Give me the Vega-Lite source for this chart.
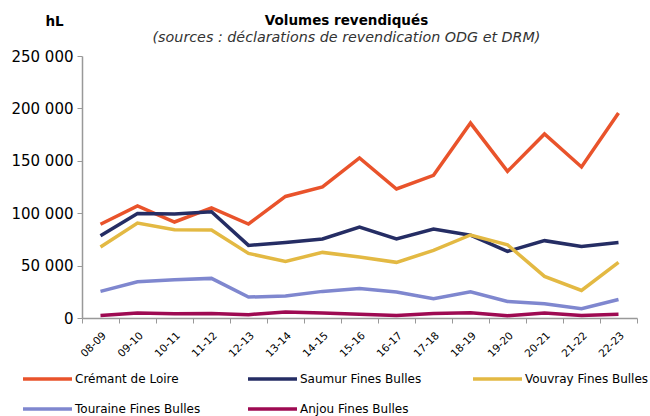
{
  "$schema": "https://vega.github.io/schema/vega-lite/v6.json",
  "width": 555,
  "height": 262,
  "autosize": {"type": "none"},
  "padding": {"left": 82, "top": 56, "right": 13, "bottom": 98},
  "background": "white",
  "config": {
    "font": "DejaVu Sans",
    "view": {"stroke": null}
  },
  "title": {
    "text": "Volumes revendiqués",
    "subtitle": "(sources : déclarations de revendication ODG et DRM)",
    "anchor": "middle",
    "frame": "group",
    "dx": -13,
    "dy": 37,
    "fontSize": 13.5,
    "fontWeight": "bold",
    "color": "#000000",
    "subtitleFontSize": 14.3,
    "subtitleFontStyle": "italic",
    "subtitleColor": "#333333",
    "subtitlePadding": 3,
    "offset": 6
  },
  "datasets": {
    "vol": [
      {"campagne": "08-09", "appellation": "Crémant de Loire", "volume": 89500},
      {"campagne": "09-10", "appellation": "Crémant de Loire", "volume": 107000},
      {"campagne": "10-11", "appellation": "Crémant de Loire", "volume": 91600},
      {"campagne": "11-12", "appellation": "Crémant de Loire", "volume": 105000},
      {"campagne": "12-13", "appellation": "Crémant de Loire", "volume": 89700},
      {"campagne": "13-14", "appellation": "Crémant de Loire", "volume": 116000},
      {"campagne": "14-15", "appellation": "Crémant de Loire", "volume": 125000},
      {"campagne": "15-16", "appellation": "Crémant de Loire", "volume": 152700},
      {"campagne": "16-17", "appellation": "Crémant de Loire", "volume": 123100},
      {"campagne": "17-18", "appellation": "Crémant de Loire", "volume": 136100},
      {"campagne": "18-19", "appellation": "Crémant de Loire", "volume": 186000},
      {"campagne": "19-20", "appellation": "Crémant de Loire", "volume": 139900},
      {"campagne": "20-21", "appellation": "Crémant de Loire", "volume": 175600},
      {"campagne": "21-22", "appellation": "Crémant de Loire", "volume": 144100},
      {"campagne": "22-23", "appellation": "Crémant de Loire", "volume": 195600},
      {"campagne": "08-09", "appellation": "Saumur Fines Bulles", "volume": 78500},
      {"campagne": "09-10", "appellation": "Saumur Fines Bulles", "volume": 99800},
      {"campagne": "10-11", "appellation": "Saumur Fines Bulles", "volume": 99200},
      {"campagne": "11-12", "appellation": "Saumur Fines Bulles", "volume": 101400},
      {"campagne": "12-13", "appellation": "Saumur Fines Bulles", "volume": 69300},
      {"campagne": "13-14", "appellation": "Saumur Fines Bulles", "volume": 72100},
      {"campagne": "14-15", "appellation": "Saumur Fines Bulles", "volume": 75400},
      {"campagne": "15-16", "appellation": "Saumur Fines Bulles", "volume": 86800},
      {"campagne": "16-17", "appellation": "Saumur Fines Bulles", "volume": 75400},
      {"campagne": "17-18", "appellation": "Saumur Fines Bulles", "volume": 84900},
      {"campagne": "18-19", "appellation": "Saumur Fines Bulles", "volume": 79000},
      {"campagne": "19-20", "appellation": "Saumur Fines Bulles", "volume": 63600},
      {"campagne": "20-21", "appellation": "Saumur Fines Bulles", "volume": 73800},
      {"campagne": "21-22", "appellation": "Saumur Fines Bulles", "volume": 68300},
      {"campagne": "22-23", "appellation": "Saumur Fines Bulles", "volume": 72100},
      {"campagne": "08-09", "appellation": "Vouvray Fines Bulles", "volume": 67700},
      {"campagne": "09-10", "appellation": "Vouvray Fines Bulles", "volume": 90600},
      {"campagne": "10-11", "appellation": "Vouvray Fines Bulles", "volume": 84300},
      {"campagne": "11-12", "appellation": "Vouvray Fines Bulles", "volume": 84000},
      {"campagne": "12-13", "appellation": "Vouvray Fines Bulles", "volume": 61600},
      {"campagne": "13-14", "appellation": "Vouvray Fines Bulles", "volume": 54000},
      {"campagne": "14-15", "appellation": "Vouvray Fines Bulles", "volume": 62600},
      {"campagne": "15-16", "appellation": "Vouvray Fines Bulles", "volume": 58200},
      {"campagne": "16-17", "appellation": "Vouvray Fines Bulles", "volume": 53100},
      {"campagne": "17-18", "appellation": "Vouvray Fines Bulles", "volume": 64500},
      {"campagne": "18-19", "appellation": "Vouvray Fines Bulles", "volume": 79200},
      {"campagne": "19-20", "appellation": "Vouvray Fines Bulles", "volume": 69900},
      {"campagne": "20-21", "appellation": "Vouvray Fines Bulles", "volume": 39700},
      {"campagne": "21-22", "appellation": "Vouvray Fines Bulles", "volume": 26300},
      {"campagne": "22-23", "appellation": "Vouvray Fines Bulles", "volume": 53100},
      {"campagne": "08-09", "appellation": "Touraine Fines Bulles", "volume": 25400},
      {"campagne": "09-10", "appellation": "Touraine Fines Bulles", "volume": 34600},
      {"campagne": "10-11", "appellation": "Touraine Fines Bulles", "volume": 36500},
      {"campagne": "11-12", "appellation": "Touraine Fines Bulles", "volume": 37800},
      {"campagne": "12-13", "appellation": "Touraine Fines Bulles", "volume": 20000},
      {"campagne": "13-14", "appellation": "Touraine Fines Bulles", "volume": 21000},
      {"campagne": "14-15", "appellation": "Touraine Fines Bulles", "volume": 25400},
      {"campagne": "15-16", "appellation": "Touraine Fines Bulles", "volume": 28200},
      {"campagne": "16-17", "appellation": "Touraine Fines Bulles", "volume": 24800},
      {"campagne": "17-18", "appellation": "Touraine Fines Bulles", "volume": 18400},
      {"campagne": "18-19", "appellation": "Touraine Fines Bulles", "volume": 25100},
      {"campagne": "19-20", "appellation": "Touraine Fines Bulles", "volume": 15800},
      {"campagne": "20-21", "appellation": "Touraine Fines Bulles", "volume": 13600},
      {"campagne": "21-22", "appellation": "Touraine Fines Bulles", "volume": 8900},
      {"campagne": "22-23", "appellation": "Touraine Fines Bulles", "volume": 17700},
      {"campagne": "08-09", "appellation": "Anjou Fines Bulles", "volume": 2500},
      {"campagne": "09-10", "appellation": "Anjou Fines Bulles", "volume": 4800},
      {"campagne": "10-11", "appellation": "Anjou Fines Bulles", "volume": 4000},
      {"campagne": "11-12", "appellation": "Anjou Fines Bulles", "volume": 4300},
      {"campagne": "12-13", "appellation": "Anjou Fines Bulles", "volume": 3200},
      {"campagne": "13-14", "appellation": "Anjou Fines Bulles", "volume": 5700},
      {"campagne": "14-15", "appellation": "Anjou Fines Bulles", "volume": 4800},
      {"campagne": "15-16", "appellation": "Anjou Fines Bulles", "volume": 3500},
      {"campagne": "16-17", "appellation": "Anjou Fines Bulles", "volume": 2500},
      {"campagne": "17-18", "appellation": "Anjou Fines Bulles", "volume": 4200},
      {"campagne": "18-19", "appellation": "Anjou Fines Bulles", "volume": 5000},
      {"campagne": "19-20", "appellation": "Anjou Fines Bulles", "volume": 2200},
      {"campagne": "20-21", "appellation": "Anjou Fines Bulles", "volume": 4800},
      {"campagne": "21-22", "appellation": "Anjou Fines Bulles", "volume": 2500},
      {"campagne": "22-23", "appellation": "Anjou Fines Bulles", "volume": 3500}
    ]
  },
  "data": {"name": "vol"},
  "mark": {"type": "line", "strokeWidth": 3.5, "strokeJoin": "miter"},
  "encoding": {
    "x": {
      "field": "campagne",
      "type": "ordinal",
      "bandPosition": 0.5,
      "scale": {"type": "band", "paddingInner": 0, "paddingOuter": 0},
      "axis": {
        "title": null,
        "labelAngle": -45,
        "labelFontSize": 10.5,
        "labelColor": "#000000",
        "tickBand": "extent",
        "tickSize": 5,
        "tickColor": "#999999",
        "domainColor": "#999999",
        "domainWidth": 1.5,
        "labelPadding": 7,
        "grid": false
      }
    },
    "y": {
      "field": "volume",
      "type": "quantitative",
      "scale": {"domain": [0, 250000]},
      "axis": {
        "values": [0, 50000, 100000, 150000, 200000, 250000],
        "labelExpr": "replace(format(datum.value, ','), ',', ' ')",
        "labelFontSize": 15,
        "labelColor": "#000000",
        "labelPadding": 4,
        "tickSize": 5,
        "tickColor": "#999999",
        "domainColor": "#999999",
        "domainWidth": 1.5,
        "grid": false,
        "title": "hL",
        "titleAngle": 0,
        "titleX": -28,
        "titleY": -35,
        "titleAlign": "center",
        "titleBaseline": "middle",
        "titleFontSize": 13.5,
        "titleFontWeight": "bold",
        "titleColor": "#000000"
      }
    },
    "color": {
      "field": "appellation",
      "type": "nominal",
      "sort": ["Crémant de Loire", "Saumur Fines Bulles", "Vouvray Fines Bulles", "Touraine Fines Bulles", "Anjou Fines Bulles"],
      "scale": {
        "domain": ["Crémant de Loire", "Saumur Fines Bulles", "Vouvray Fines Bulles", "Touraine Fines Bulles", "Anjou Fines Bulles"],
        "range": ["#E9532B", "#252D64", "#E3B943", "#7F87CF", "#9E0A52"]
      },
      "legend": {
        "title": null,
        "orient": "none",
        "legendX": -61,
        "legendY": 316,
        "direction": "horizontal",
        "columns": 3,
        "gridAlign": "all",
        "symbolType": "M-1,0H8.8",
        "symbolSize": 100,
        "symbolStrokeWidth": 3.5,
        "symbolFillColor": "transparent",
        "labelFontSize": 12,
        "labelColor": "#000000",
        "labelOffset": 40,
        "labelLimit": 300,
        "columnPadding": 40,
        "rowPadding": 16
      }
    }
  }
}
